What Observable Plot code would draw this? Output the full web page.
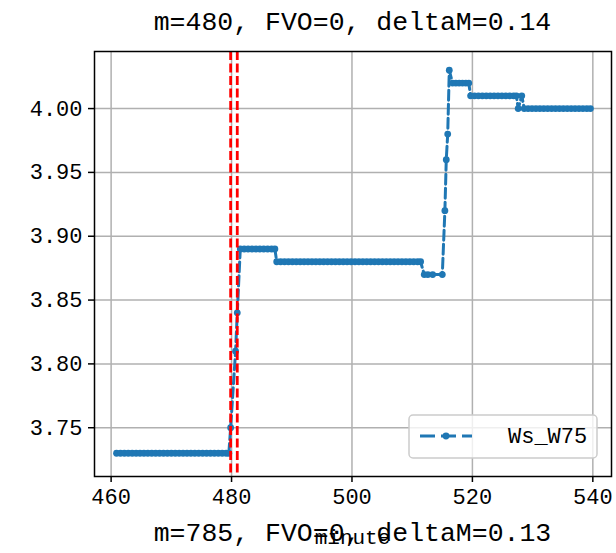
<!DOCTYPE html>
<html>
<head>
<meta charset="utf-8">
<script src="https://cdn.jsdelivr.net/npm/d3@7"></script>
<script src="https://cdn.jsdelivr.net/npm/@observablehq/plot@0.6"></script>
<style>
  html, body { margin: 0; padding: 0; background: white; }
</style>
</head>
<body>
<div id="chart"></div>
<script>
const titleTop = "m=480, FVO=0, deltaM=0.14";
const titleBottom = "m=785, FVO=0, deltaM=0.13";
const xLabel = "minute";
const seriesName = "Ws_W75";

const minutes = [
  460.9, 461.55, 462.2, 462.85, 463.5, 464.15, 464.8, 465.45, 466.1, 466.75,
  467.4, 468.05, 468.7, 469.35, 470.0, 470.65, 471.3, 471.95, 472.6, 473.25,
  473.9, 474.55, 475.2, 475.85, 476.5, 477.15, 477.8, 478.45, 479.1, 479.55,
  479.85, 480.67, 480.95,
  481.45, 482.1, 482.75, 483.4, 484.05, 484.7, 485.35, 486.0, 486.65, 487.2,
  487.5, 488.15, 488.8, 489.45, 490.1, 490.75, 491.4, 492.05, 492.7, 493.35,
  494.0, 494.65, 495.3, 495.95, 496.6, 497.25, 497.9, 498.55, 499.2, 499.85,
  500.5, 501.15, 501.8, 502.45, 503.1, 503.75, 504.4, 505.05, 505.7, 506.35,
  507.0, 507.65, 508.3, 508.95, 509.6, 510.25, 510.9, 511.4,
  512.0, 512.6, 513.4, 515.0,
  515.43, 515.66, 515.9, 516.16,
  516.7, 517.25, 517.8, 518.35, 518.9, 519.4,
  519.7, 520.35, 521.0, 521.65, 522.3, 522.95, 523.6, 524.25, 524.9, 525.55,
  526.2, 526.85, 527.3,
  527.6, 528.2,
  528.6, 529.25, 529.9, 530.55, 531.2, 531.85, 532.5, 533.15, 533.8, 534.45,
  535.1, 535.75, 536.4, 537.05, 537.7, 538.35, 539.0, 539.6
];
const ws = [
  3.73, 3.73, 3.73, 3.73, 3.73, 3.73, 3.73, 3.73, 3.73, 3.73,
  3.73, 3.73, 3.73, 3.73, 3.73, 3.73, 3.73, 3.73, 3.73, 3.73,
  3.73, 3.73, 3.73, 3.73, 3.73, 3.73, 3.73, 3.73, 3.73, 3.73,
  3.75, 3.81, 3.84,
  3.89, 3.89, 3.89, 3.89, 3.89, 3.89, 3.89, 3.89, 3.89, 3.89,
  3.88, 3.88, 3.88, 3.88, 3.88, 3.88, 3.88, 3.88, 3.88, 3.88,
  3.88, 3.88, 3.88, 3.88, 3.88, 3.88, 3.88, 3.88, 3.88, 3.88,
  3.88, 3.88, 3.88, 3.88, 3.88, 3.88, 3.88, 3.88, 3.88, 3.88,
  3.88, 3.88, 3.88, 3.88, 3.88, 3.88, 3.88, 3.88,
  3.87, 3.87, 3.87, 3.87,
  3.92, 3.96, 3.98, 4.03,
  4.02, 4.02, 4.02, 4.02, 4.02, 4.02,
  4.01, 4.01, 4.01, 4.01, 4.01, 4.01, 4.01, 4.01, 4.01, 4.01,
  4.01, 4.01, 4.01,
  4.00, 4.01,
  4.00, 4.00, 4.00, 4.00, 4.00, 4.00, 4.00, 4.00, 4.00, 4.00,
  4.00, 4.00, 4.00, 4.00, 4.00, 4.00, 4.00, 4.00
];
const markerLines = [479.85, 480.95];
const xTicks = [460, 480, 500, 520, 540];
const yTicks = [3.75, 3.80, 3.85, 3.90, 3.95, 4.00];

const data = minutes.map((m, i) => ({minute: m, value: ws[i]}));

const blue = "#1f77b4";
const W = 616, H = 553;
const mL = 94, mR = 5, mT = 51, mB = 77;

const plot = Plot.plot({
  width: W,
  height: H,
  marginLeft: mL,
  marginRight: mR,
  marginTop: mT,
  marginBottom: mB,
  style: {fontFamily: "Liberation Mono, DejaVu Sans Mono, monospace", fontSize: "22px", color: "black", background: "white", overflow: "visible"},
  x: {domain: [457.24, 543.1]},
  y: {domain: [3.7118, 4.0447]},
  marks: [
    Plot.gridX(xTicks, {stroke: "#b0b0b0", strokeOpacity: 1, strokeWidth: 1.5}),
    Plot.gridY(yTicks, {stroke: "#b0b0b0", strokeOpacity: 1, strokeWidth: 1.5}),
    Plot.line(data, {x: "minute", y: "value", stroke: blue, strokeWidth: 3, strokeDasharray: "10,4"}),
    Plot.dot(data, {x: "minute", y: "value", r: 3.4, fill: blue, stroke: "none"}),
    Plot.ruleX(markerLines, {stroke: "red", strokeWidth: 2.8, strokeDasharray: "9,3.5"}),
    Plot.frame({stroke: "black", strokeWidth: 1.5}),
    Plot.axisX(xTicks, {tickSize: 6, tickPadding: 6, strokeWidth: 1.5, tickFormat: d => String(d), label: null, fontSize: 22}),
    Plot.axisY(yTicks, {tickSize: 6, tickPadding: 6, strokeWidth: 1.5, tickFormat: d => d.toFixed(2), label: null, fontSize: 22})
  ]
});

document.getElementById("chart").appendChild(plot);

const svg = d3.select(plot);
const cx = (mL + (W - mR)) / 2;
const font = "Liberation Mono, DejaVu Sans Mono, monospace";

svg.append("text")
  .attr("x", cx).attr("y", 23)
  .attr("text-anchor", "middle").attr("dominant-baseline", "central")
  .attr("font-family", font).attr("font-size", 26.5).attr("fill", "black")
  .text(titleTop);

svg.append("text")
  .attr("x", cx).attr("y", 534)
  .attr("text-anchor", "middle").attr("dominant-baseline", "central")
  .attr("font-family", font).attr("font-size", 26.5).attr("fill", "black")
  .text(titleBottom);

svg.append("text")
  .attr("x", cx).attr("y", 538)
  .attr("text-anchor", "middle").attr("dominant-baseline", "central")
  .attr("font-family", font).attr("font-size", 21).attr("fill", "black")
  .text(xLabel);

// legend
const lg = svg.append("g");
lg.append("rect")
  .attr("x", 409).attr("y", 415).attr("width", 188).attr("height", 43)
  .attr("rx", 4).attr("fill", "white").attr("fill-opacity", 0.8)
  .attr("stroke", "#cccccc").attr("stroke-width", 1.5);
lg.append("line")
  .attr("x1", 420).attr("x2", 472).attr("y1", 436).attr("y2", 436)
  .attr("stroke", blue).attr("stroke-width", 3).attr("stroke-dasharray", "15,6");
lg.append("circle")
  .attr("cx", 446).attr("cy", 436).attr("r", 3.4).attr("fill", blue);
lg.append("text")
  .attr("x", 508).attr("y", 437).attr("dominant-baseline", "central")
  .attr("text-anchor", "start")
  .attr("font-family", font).attr("font-size", 22).attr("fill", "black")
  .text(seriesName);
</script>
</body>
</html>
